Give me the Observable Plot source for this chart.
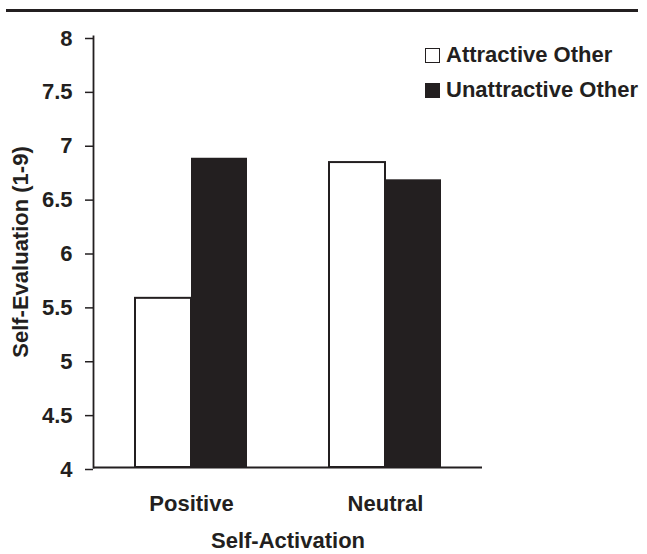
<!DOCTYPE html>
<html>
<head>
<meta charset="utf-8">
<script src="https://cdn.jsdelivr.net/npm/d3@7"></script>
<script src="https://cdn.jsdelivr.net/npm/@observablehq/plot@0.6"></script>
<style>
  html, body { margin: 0; padding: 0; background: #fff; }
  #wrap { position: relative; width: 647px; height: 554px; font-family: "Liberation Sans", Arial, sans-serif; font-weight: bold; color: #231f20; }
  #chart svg { display: block; }
  #rule { position: absolute; left: 6px; top: 9px; width: 632px; height: 2.5px; background: #231f20; }
  .leg { position: absolute; left: 425px; font-size: 22px; line-height: 22px; display: flex; align-items: center; white-space: nowrap; }
  .sw { width: 13px; height: 13px; border: 1.5px solid #231f20; margin-right: 6px; box-sizing: content-box; }
</style>
</head>
<body>
<div id="wrap">
  <div id="chart"></div>
  <div id="rule"></div>
  <div id="legend"></div>
</div>
<script>
const groups = ["Positive", "Neutral"];
const series = ["Attractive Other", "Unattractive Other"];
const attractive = [5.57, 6.83];
const unattractive = [6.87, 6.67];
const yTicks = [4, 4.5, 5, 5.5, 6, 6.5, 7, 7.5, 8];
const yLabel = "Self-Evaluation (1-9)";
const xLabel = "Self-Activation";

const ink = "#231f20";
const attData = groups.map((g, i) => ({group: g, value: attractive[i]}));
const unaData = groups.map((g, i) => ({group: g, value: unattractive[i]}));

const chart = Plot.plot({
  width: 647,
  height: 554,
  marginLeft: 93,
  marginRight: 165,
  marginTop: 36,
  marginBottom: 87,
  style: {fontFamily: '"Liberation Sans", Arial, sans-serif', fontWeight: "bold", fontSize: "22px", color: ink, background: "#fff"},
  x: {domain: groups, paddingInner: 0.423, paddingOuter: 0.214, label: null},
  y: {domain: [4, 8], label: null},
  marks: [
    Plot.barY(attData, {x: "group", y1: 4, y2: "value", fill: "#fff", stroke: ink, strokeWidth: 2, insetRight: 56}),
    Plot.barY(unaData, {x: "group", y1: 4, y2: "value", fill: ink, insetLeft: 56}),
    Plot.frame({anchor: "left", stroke: ink, strokeWidth: 1.8}),
    Plot.ruleY([4], {stroke: ink, strokeWidth: 2}),
    Plot.axisY({ticks: yTicks, tickFormat: d => String(d), tickSize: 8, tickPadding: 13, strokeWidth: 1.5, dy: 2, label: yLabel, labelAnchor: "center", labelArrow: "none", labelOffset: 81, fill: ink}),
    Plot.axisX({tickSize: 0, tickPadding: 28, label: xLabel, labelAnchor: "center", labelArrow: "none", labelOffset: 80, fill: ink})
  ]
});
document.getElementById("chart").appendChild(chart);

const legend = document.getElementById("legend");
const legendTops = [44, 79];
series.forEach((s, i) => {
  const row = document.createElement("div");
  row.className = "leg";
  row.style.top = legendTops[i] + "px";
  const sw = document.createElement("span");
  sw.className = "sw";
  sw.style.background = i === 0 ? "#fff" : ink;
  row.appendChild(sw);
  const t = document.createElement("span");
  t.textContent = s;
  row.appendChild(t);
  legend.appendChild(row);
});
</script>
</body>
</html>
